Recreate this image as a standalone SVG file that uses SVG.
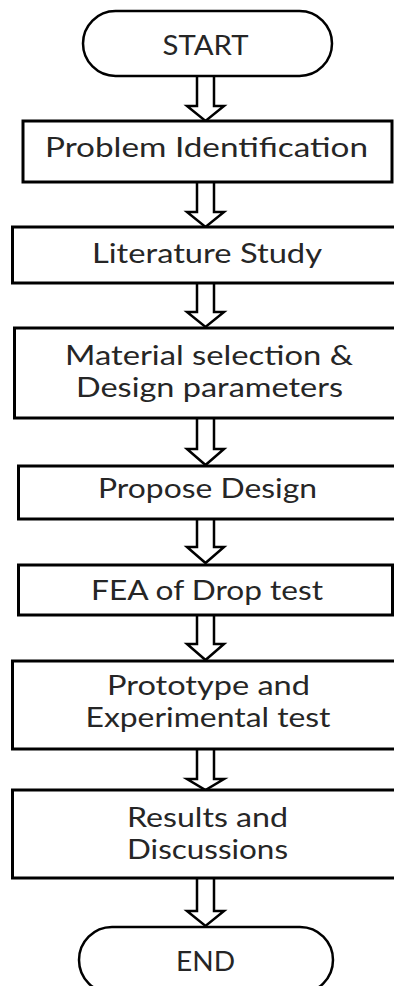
<svg xmlns="http://www.w3.org/2000/svg" width="394" height="986" viewBox="0 0 394 986">
  <style>
    .box { fill: #ffffff; stroke: #000000; stroke-width: 3; }
    .term { fill: #ffffff; stroke: #000000; stroke-width: 2.5; }
    .arrow { fill: #ffffff; stroke: #000000; stroke-width: 2.5; stroke-linejoin: miter; }
    .label { font-family: Lato, "Open Sans", "Liberation Sans", sans-serif; font-size: 27px; fill: #262626; text-anchor: middle; }
  </style>
  <rect x="0" y="0" width="394" height="986" fill="#ffffff"/>

  <!-- connectors: hollow block arrows between steps -->
  <g id="connectors">
    <path class="arrow" d="M197,76 V106 H187 L205.5,121 L224,106 H214 V76"/>
    <path class="arrow" d="M197,182 V212 H187 L205.5,227 L224,212 H214 V182"/>
    <path class="arrow" d="M197,283 V312 H187 L205.5,327 L224,312 H214 V283"/>
    <path class="arrow" d="M197,418 V449 H187 L205.5,465 L224,449 H214 V418"/>
    <path class="arrow" d="M197,519 V547 H187 L205.5,563 L224,547 H214 V519"/>
    <path class="arrow" d="M197,615 V644 H187 L205.5,660 L224,644 H214 V615"/>
    <path class="arrow" d="M197,749 V779 H187 L205.5,790 L224,779 H214 V749"/>
    <path class="arrow" d="M197,878 V911 H187 L205.5,926 L224,911 H214 V878"/>
  </g>

  <g id="start">
    <rect class="term" x="83" y="11" width="249" height="65" rx="32.5" ry="32.5"/>
    <text class="label" x="205.5" y="55" textLength="86" lengthAdjust="spacingAndGlyphs">START</text>
  </g>

  <g id="problem-identification">
    <rect class="box" x="23" y="121" width="369" height="61"/>
    <text class="label" x="206.5" y="157" textLength="323" lengthAdjust="spacingAndGlyphs">Problem Identification</text>
  </g>

  <g id="literature-study">
    <rect class="box" x="12.5" y="227" width="386" height="56"/>
    <text class="label" x="207" y="263" textLength="230" lengthAdjust="spacingAndGlyphs">Literature Study</text>
  </g>

  <g id="material-selection">
    <rect class="box" x="14.5" y="328" width="384" height="90"/>
    <text class="label" x="209" y="365" textLength="288" lengthAdjust="spacingAndGlyphs">Material selection &amp;</text>
    <text class="label" x="209.5" y="397" textLength="267" lengthAdjust="spacingAndGlyphs">Design parameters</text>
  </g>

  <g id="propose-design">
    <rect class="box" x="18.5" y="466" width="380" height="53"/>
    <text class="label" x="207.5" y="498" textLength="219" lengthAdjust="spacingAndGlyphs">Propose Design</text>
  </g>

  <g id="fea-drop-test">
    <rect class="box" x="18.5" y="565" width="374" height="50"/>
    <text class="label" x="207" y="600" textLength="232" lengthAdjust="spacingAndGlyphs">FEA of Drop test</text>
  </g>

  <g id="prototype-experimental">
    <rect class="box" x="12.5" y="661" width="386" height="88"/>
    <text class="label" x="208.5" y="695" textLength="203" lengthAdjust="spacingAndGlyphs">Prototype and</text>
    <text class="label" x="208" y="727" textLength="245" lengthAdjust="spacingAndGlyphs">Experimental test</text>
  </g>

  <g id="results-discussions">
    <rect class="box" x="12.5" y="790" width="386" height="88"/>
    <text class="label" x="207.5" y="827" textLength="161" lengthAdjust="spacingAndGlyphs">Results and</text>
    <text class="label" x="207.5" y="859" textLength="161" lengthAdjust="spacingAndGlyphs">Discussions</text>
  </g>

  <g id="end">
    <rect class="term" x="79" y="927" width="254" height="66" rx="33" ry="33"/>
    <text class="label" x="205.5" y="971" textLength="59" lengthAdjust="spacingAndGlyphs">END</text>
  </g>
</svg>
